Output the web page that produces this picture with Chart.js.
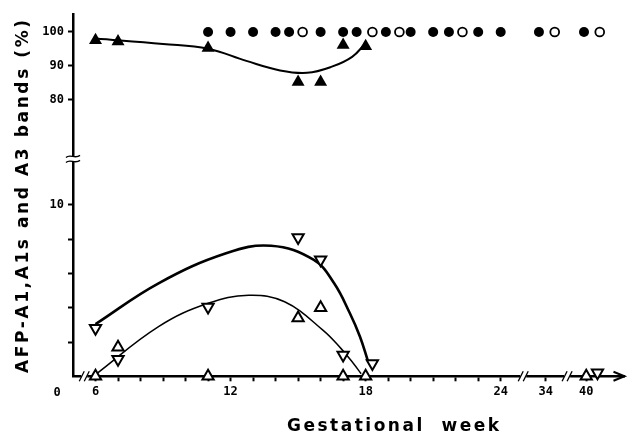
<!DOCTYPE html>
<html>
<head>
<meta charset="utf-8">
<script src="https://cdn.jsdelivr.net/npm/chart.js@4.4.1/dist/chart.umd.min.js"></script>
<style>
  html, body { margin: 0; padding: 0; background: #fff; }
  canvas { display: block; }
</style>
</head>
<body>
<canvas id="chart" width="633" height="434"></canvas>
<script>
// ---- Data: gestational week vs. share of AFP band (%) ----
// Upper panel (80–100 %)
const filledCircleWeeks = [11, 12, 13, 14, 14.6, 16, 17, 17.6, 18.9, 20, 21, 21.7, 23, 24, 33.7, 39.9];
const filledCirclePct   = [100, 100, 100, 100, 100, 100, 100, 100, 100, 100, 100, 100, 100, 100, 100, 100];
const openCircleWeeks   = [15.2, 18.3, 19.5, 22.3, 34.4, 40.6];
const openCirclePct     = [100, 100, 100, 100, 100, 100];
const filledTriWeeks    = [6, 7, 11, 15, 16, 17, 18];
const filledTriPct      = [97.6, 97.2, 95.3, 85.3, 85.3, 96.2, 95.8];
// Lower panel (0–10 %)
const upTriWeeks        = [6, 7, 11, 15, 16, 17, 18, 40];
const upTriPct          = [0, 1.7, 0, 3.4, 4.0, 0, 0, 0];
const downTriWeeks      = [6, 7, 11, 15, 16, 17, 18.3, 40.5];
const downTriPct        = [2.8, 1.0, 4.05, 8.1, 6.8, 1.25, 0.75, 0.2];
// Hand-fitted trend curves
const upperFitWeeks     = [6, 9, 11, 12.7, 14.2, 15.4, 16.5, 17.4, 18];
const upperFitPct       = [98.1, 96.5, 95.1, 91.5, 88.7, 88.0, 89.8, 92.7, 96.7];
const downFitWeeks      = [6, 8.8, 11.8, 13.8, 15.7, 16.6, 17.3, 17.75, 18.1];
const downFitPct        = [3.05, 5.43, 7.18, 7.62, 6.79, 5.43, 3.68, 2.31, 0.9];
const upFitWeeks        = [6, 8.8, 11, 12.8, 14.4, 16.1, 16.9, 17.45, 17.8];
const upFitPct          = [0.1, 2.9, 4.26, 4.73, 4.35, 2.7, 1.63, 0.76, 0.15];

// Axis ticks and labels
const xTickWeeks   = [6, 7, 8, 9, 10, 11, 12, 13, 14, 15, 16, 17, 18, 19, 20, 21, 22, 23, 24, 34, 40];
const xLabelWeeks  = [6, 12, 18, 24, 34, 40];
const yLowerTicks  = [2, 4, 6, 8, 10];
const yLowerLabels = ['', '', '', '', '10'];
const yUpperTicks  = [80, 90, 100];
const yUpperLabels = ['80', '90', '100'];

// ---- Broken axes ----
// x: weeks 5–25 linear, then short segments around week 34 and week 40
function weekToAxis(w) {
  if (w <= 25) return w;
  if (w <= 37) return 26 + (w - 34);
  return 27.8 + (w - 40);
}
// y: lower panel in its own units; upper panel compressed above the break
const UPPER_100 = 20.1, UPPER_PER_PCT = 0.1985;
const lowerToAxis = v => v;
const upperToAxis = p => UPPER_100 + (p - 100) * UPPER_PER_PCT;

function points(weeks, values, toY) {
  return weeks.map((w, i) => ({ x: weekToAxis(w), y: toY(values[i]) }));
}

const tickFont = { family: 'DejaVu Sans Mono', weight: 'bold', size: 12 };
const titleFont = 'bold 17px "DejaVu Sans"';

const yTickList = [
  ...yLowerTicks.map((v, i) => ({ value: lowerToAxis(v), label: yLowerLabels[i] })),
  ...yUpperTicks.map((v, i) => ({ value: upperToAxis(v), label: yUpperLabels[i] }))
];
const xTickList = xTickWeeks.map(w => ({
  value: weekToAxis(w),
  label: xLabelWeeks.includes(w) ? String(w) : ''
}));
const findLabel = (list, v) => {
  const t = list.find(t => Math.abs(t.value - v) < 1e-6);
  return t ? t.label : '';
};

// Axis breaks, arrow head, origin label and axis titles
const decorations = {
  id: 'decorations',
  afterDraw(chart) {
    const { ctx, chartArea: a, scales: { x, y } } = chart;
    ctx.save();
    ctx.strokeStyle = '#000';
    ctx.fillStyle = '#000';
    const base = a.bottom;

    // x-axis breaks
    [5.5, 25, 26.95].forEach(u => {
      const px = x.getPixelForValue(u);
      ctx.fillStyle = '#fff';
      ctx.fillRect(px - 3, base - 2.5, 6, 5);
      ctx.lineWidth = 1.3;
      [-2.5, 2.5].forEach(dx => {
        ctx.beginPath();
        ctx.moveTo(px + dx - 2.5, base + 5);
        ctx.quadraticCurveTo(px + dx - 0.5, base + 1, px + dx, base);
        ctx.quadraticCurveTo(px + dx + 0.5, base - 1, px + dx + 2.5, base - 5);
        ctx.stroke();
      });
    });

    // y-axis break
    const by = y.getPixelForValue(12.69);
    const ax = a.left;
    ctx.fillStyle = '#fff';
    ctx.fillRect(ax - 2, by - 2.5, 4, 5);
    ctx.lineWidth = 1.4;
    [-2.5, 2.5].forEach(dy => {
      ctx.beginPath();
      ctx.moveTo(ax - 7, by + dy + 1);
      ctx.bezierCurveTo(ax - 3, by + dy - 3, ax + 2, by + dy + 3, ax + 7, by + dy - 1);
      ctx.stroke();
    });

    // arrow head at the end of the x axis
    ctx.lineWidth = 2;
    ctx.beginPath();
    ctx.moveTo(a.right - 11, base - 4.5);
    ctx.lineTo(a.right, base);
    ctx.lineTo(a.right - 11, base + 4.5);
    ctx.stroke();

    // origin label
    ctx.fillStyle = '#000';
    ctx.font = 'bold 12px "DejaVu Sans Mono"';
    ctx.textAlign = 'center';
    ctx.textBaseline = 'middle';
    ctx.fillText('0', a.left - 16, base + 17);

    // axis titles
    ctx.font = titleFont;
    ctx.textAlign = 'left';
    ctx.textBaseline = 'alphabetic';
    if ('letterSpacing' in ctx) ctx.letterSpacing = '2.5px';
    ctx.fillText('Gestational  week', 287, 431);

    if ('letterSpacing' in ctx) ctx.letterSpacing = '2.6px';
    ctx.translate(28, 373);
    ctx.rotate(-Math.PI / 2);
    ctx.fillText('AFP-A1,A1s and A3 bands (%)', 0, 0);
    ctx.restore();
  }
};

const markerBase = { showLine: false, clip: false, borderColor: '#000' };
const curveBase = {
  showLine: true, pointRadius: 0, borderColor: '#000', fill: false,
  tension: 0.4, clip: false
};

new Chart(document.getElementById('chart'), {
  type: 'scatter',
  data: {
    datasets: [
      { ...markerBase, label: 'filled circles', order: 1,
        data: points(filledCircleWeeks, filledCirclePct, upperToAxis),
        pointStyle: 'circle', pointRadius: 5, pointBackgroundColor: '#000', pointBorderWidth: 0 },
      { ...markerBase, label: 'open circles', order: 1,
        data: points(openCircleWeeks, openCirclePct, upperToAxis),
        pointStyle: 'circle', pointRadius: 4.4, pointBackgroundColor: '#fff', pointBorderWidth: 1.8 },
      { ...markerBase, label: 'filled triangles', order: 1,
        data: points(filledTriWeeks, filledTriPct, upperToAxis),
        pointStyle: 'triangle', pointRadius: 7.5, pointBackgroundColor: '#000', pointBorderWidth: 0 },
      { ...markerBase, label: 'open triangles', order: 1,
        data: points(upTriWeeks, upTriPct, lowerToAxis),
        pointStyle: 'triangle', pointRadius: 6.5, pointBackgroundColor: '#fff', pointBorderWidth: 2 },
      { ...markerBase, label: 'open inverted triangles', order: 1,
        data: points(downTriWeeks, downTriPct, lowerToAxis),
        pointStyle: 'triangle', pointRotation: 180, pointRadius: 6.5, pointBackgroundColor: '#fff', pointBorderWidth: 2 },
      { ...curveBase, label: 'trend (filled triangles)', order: 2, borderWidth: 2,
        data: points(upperFitWeeks, upperFitPct, upperToAxis) },
      { ...curveBase, label: 'trend (inverted triangles)', order: 2, borderWidth: 2.6,
        data: points(downFitWeeks, downFitPct, lowerToAxis) },
      { ...curveBase, label: 'trend (open triangles)', order: 2, borderWidth: 1.5,
        data: points(upFitWeeks, upFitPct, lowerToAxis) }
    ]
  },
  options: {
    responsive: false,
    animation: false,
    devicePixelRatio: 1,
    events: [],
    layout: { padding: { top: 14, left: 0, right: 1, bottom: 0 } },
    plugins: { legend: { display: false }, tooltip: { enabled: false } },
    scales: {
      x: {
        type: 'linear', min: 5, max: 29.5, position: 'bottom',
        border: { display: true, color: '#000', width: 2.5 },
        grid: { display: true, drawOnChartArea: false, drawTicks: true, tickLength: 5,
                tickWidth: 2, tickColor: '#000', color: '#000' },
        ticks: { color: '#000', font: tickFont, padding: 3, autoSkip: false, maxRotation: 0,
                 callback: v => findLabel(xTickList, v) },
        afterBuildTicks: s => { s.ticks = xTickList.map(t => ({ value: t.value })); },
        afterFit: s => { s.height = 57.7; }
      },
      y: {
        type: 'linear', min: 0, max: 21.15, position: 'left',
        border: { display: true, color: '#000', width: 2.5 },
        grid: { display: true, drawOnChartArea: false, drawTicks: true, tickLength: 5,
                tickWidth: 2, tickColor: '#000', color: '#000' },
        ticks: { color: '#000', font: tickFont, padding: 4, autoSkip: false,
                 callback: v => findLabel(yTickList, v) },
        afterBuildTicks: s => { s.ticks = yTickList.map(t => ({ value: t.value })); },
        afterFit: s => { s.width = 73; }
      }
    }
  },
  plugins: [decorations]
});
</script>
</body>
</html>
